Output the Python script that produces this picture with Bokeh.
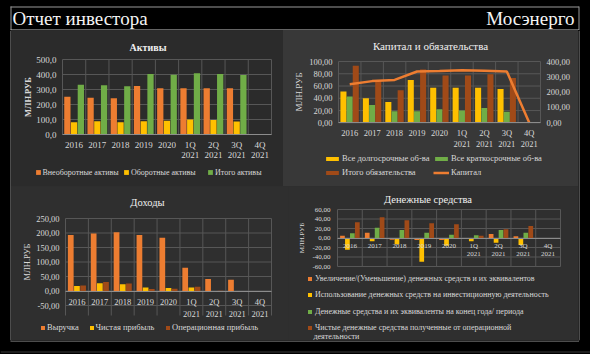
from bokeh.plotting import figure
from bokeh.models import (ColumnDataSource, Range1d, FixedTicker, LinearAxis, Legend,
                          LegendItem, Label, CustomJSTickFormatter)
from bokeh.transform import dodge
from bokeh.layouts import row, column
from bokeh.embed import file_html
from bokeh.resources import INLINE
from bokeh.core.properties import value

# ---------------- data ----------------
categories = ["2016", "2017", "2018", "2019", "2020",
              "1Q\n2021", "2Q\n2021", "3Q\n2021", "4Q\n2021"]

assets_names = ["Внеоборотные активы", "Оборотные активы", "Итого активы"]
assets_noncurrent = [252, 245, 241, 323, 308, 308, 308, 309, 0]
assets_current = [82, 88, 81, 88, 91, 100, 96, 87, 0]
assets_total = [331, 328, 322, 403, 398, 408, 404, 397, 0]
assets_ticks = [0, 100, 200, 300, 400, 500]

liab_names = ["Все долгосрочные об-ва", "Все краткосрочные об-ва", "Итого обязательства", "Капитал"]
liab_long = [51, 40, 34, 70, 57, 57, 57, 55, 0]
liab_short = [43, 29, 19, 19, 22, 20, 24, 18, 0]
liab_total = [93, 68, 53, 87, 77, 77, 79, 73, 0]
equity = [252, 272, 280, 335, 338, 343, 340, 335, 0]
liab_ticks = [0, 20, 40, 60, 80, 100]
equity_ticks = [0, 100, 200, 300, 400]

income_names = ["Выручка", "Чистая прибыль", "Операционная прибыль"]
revenue = [193, 198, 203, 193, 184, 80, 41, 39, 0]
net_income = [17, 27, 23, 12, 10, 12, -2, -2, 0]
op_income = [19, 31, 26, 7, 8, 15, 1, -1, 0]
income_ticks = [-50, 0, 50, 100, 150, 200, 250]

cash_names = ["Увеличение/(Уменьшение) денежных средств и их эквивалентов",
              "Использование денежных средств на инвестиционную деятельность",
              "Денежные средства и их эквиваленты на конец года/ периода",
              "Чистые денежные средства полученные от операционной"]
cash_wrap = "деятельности"
cash_change = [4.9, 11.2, -3.5, -4.2, -4.2, -2.1, 8.4, 3.5, 0]
cash_invest = [-24.6, -7.0, -13.3, -49.8, -16.1, -7.0, -9.8, -14.7, 0]
cash_end = [9.8, 21.8, 16.8, 11.2, 7.0, 5.6, 16.8, 11.2, 0]
cash_oper = [33.0, 43.5, 37.2, 30.9, 28.8, 4.9, 18.2, 25.3, 0]
cash_ticks = [-60, -40, -20, 0, 20, 40, 60]

y_label = "МЛН.РУБ"
header_left = "Отчет инвестора"
header_right = "Мосэнерго"
titles = ["Активы", "Капитал и обязательства", "Доходы", "Денежные средства"]

# ---------------- style ----------------
FONT = "Liberation Serif"
ORANGE = "#ED7D31"
YELLOW = "#FFC000"
GREEN = "#70AD47"
BROWN = "#A04A18"
GRID = "#575757"
AXIS = "#8c8c8c"
TXT = "#d9d9d9"
TITLE = "#f0f0f0"
FRAME = "#9a9a9a"
CHALK = "#2f2f2f"
N = len(categories)
IDX = list(range(N))


def num_fmt(dec):
    return CustomJSTickFormatter(code="return tick.toFixed(%d).replace('.', ',');" % dec)


def style_axis(ax, fs, standoff):
    ax.major_tick_line_color = None
    ax.minor_tick_line_color = None
    ax.major_tick_out = 0
    ax.major_tick_in = 0
    ax.minor_tick_out = 0
    ax.minor_tick_in = 0
    ax.major_label_standoff = standoff
    ax.major_label_text_font = FONT
    ax.major_label_text_font_size = fs
    ax.major_label_text_color = TXT


class Chart:
    """A cell whose plot frame fills the whole canvas; axes are fixed inside it."""

    def __init__(self, w, h, cx0, cy0, pl, pr, pt, pb, ticks, dec, bg, fs,
                 ystand, xstand, lh, lab_fs, lab_style, lab_stand, x_at,
                 vgrid_extra=0.0, styles=None):
        self.cx0, self.cy0, self.h = cx0, cy0, h
        ymin, ymax = ticks[0], ticks[-1]
        L, R, T, B = pl - cx0, pr - cx0, pt - cy0, pb - cy0
        ppx = (R - L) / N
        ppy = (B - T) / (ymax - ymin)
        self.yr = (ymin - (h - B) / ppy, ymax + T / ppy)
        st = {"background-color": bg}
        if styles:
            st.update(styles)
        p = figure(width=w, height=h, x_range=Range1d(-L / ppx, N + (w - R) / ppx),
                   y_range=Range1d(*self.yr), title=None,
                   x_axis_location=None, y_axis_location=None, min_border=0,
                   output_backend="svg", toolbar_location=None,
                   background_fill_color=bg, border_fill_color=bg,
                   outline_line_color=None, styles=st)
        p.grid.visible = False
        # grid lines (horizontal at ticks, vertical at category boundaries)
        p.segment(x0=[0] * len(ticks), y0=ticks, x1=[N] * len(ticks), y1=ticks,
                  line_color=GRID, line_width=1)
        bnd = list(range(N + 1))
        low = ymin - vgrid_extra / ppy
        p.segment(x0=bnd, y0=[low] * (N + 1), x1=bnd, y1=[ymax] * (N + 1),
                  line_color=GRID, line_width=1)
        # y axis
        yax = LinearAxis(ticker=FixedTicker(ticks=ticks), formatter=num_fmt(dec),
                         fixed_location=0, bounds=(ymin, ymax))
        style_axis(yax, fs, ystand)
        yax.axis_line_color = None
        yax.axis_label = y_label
        yax.axis_label_text_font = FONT
        yax.axis_label_text_font_size = lab_fs
        yax.axis_label_text_font_style = lab_style
        yax.axis_label_text_color = TXT
        yax.axis_label_standoff = int(lab_stand)
        p.add_layout(yax, "left")
        # category axis
        xax = LinearAxis(ticker=FixedTicker(ticks=[i + 0.5 for i in IDX]),
                         formatter=CustomJSTickFormatter(
                             args=dict(cats=categories),
                             code="const i = Math.floor(tick); return (i >= 0 && i < cats.length) ? cats[i] : '';"),
                         fixed_location=x_at, bounds=(0, N))
        style_axis(xax, fs, xstand)
        xax.axis_line_color = AXIS
        xax.major_label_text_line_height = lh
        p.add_layout(xax, "below")
        self.p = p

    def sx(self, ix):
        return ix - self.cx0

    def sy(self, iy):
        return self.cy0 + self.h - iy

    def label(self, ix, iy, text, size, color=TITLE, style="normal", align="center"):
        self.p.add_layout(Label(x=self.sx(ix), y=self.sy(iy), x_units="screen", y_units="screen",
                                text=text, text_font=FONT, text_font_size=size,
                                text_font_style=style, text_color=color,
                                text_align=align, text_baseline="middle"))

    def legend(self, r, text, ix, iy, gw, gh, size, standoff=2, H=10):
        lg = Legend(items=[LegendItem(label=value(text), renderers=[r])],
                    location=(self.sx(ix), self.sy(iy + H / 2)), orientation="horizontal",
                    padding=0, margin=0, spacing=0, border_line_color=None,
                    background_fill_alpha=0, glyph_width=gw, glyph_height=gh,
                    label_height=H, label_width=0, label_standoff=standoff,
                    label_text_font=FONT, label_text_font_size=size,
                    label_text_color=TXT)
        self.p.add_layout(lg)


# ---------------- Активы (top-left) ----------------
tl = Chart(272, 156, 11, 30, 62, 271, 59, 134, assets_ticks, 1, "#2b2b2b", "9px",
           6, 5, 1.0, "8.5px", "bold", 0, 0,
           styles={"outline": "1px solid #161616", "outline-offset": "-3px"})
src_a = ColumnDataSource(dict(x=IDX, a=assets_noncurrent, b=assets_current, c=assets_total))
ra = tl.p.vbar(x=dodge("x", 0.5 - 0.29), top="a", width=0.27, source=src_a,
               fill_color=ORANGE, line_color=None)
rb = tl.p.vbar(x=dodge("x", 0.5), top="b", width=0.27, source=src_a,
               fill_color=YELLOW, line_color=None)
rc = tl.p.vbar(x=dodge("x", 0.5 + 0.29), top="c", width=0.27, source=src_a,
               fill_color=GREEN, line_color=None)
tl.label(147.5, 46.5, titles[0], "10px", style="bold")
for r, t, x in zip([ra, rb, rc], assets_names, [34.5, 123, 207]):
    tl.legend(r, t, x, 172, 6, 6, "8px")

# ---------------- Капитал и обязательства (top-right) ----------------
tr = Chart(295, 156, 283, 30, 338, 540, 61, 122.3, liab_ticks, 2, "#383838", "8.5px",
           6, 5, 1.1, "9px", "normal", 2, 0)
scale = equity_ticks[-1] / liab_ticks[-1]
tr.p.extra_y_ranges = {"cap": Range1d(tr.yr[0] * scale, tr.yr[1] * scale)}
rax = LinearAxis(y_range_name="cap", ticker=FixedTicker(ticks=equity_ticks),
                 formatter=num_fmt(2), fixed_location=N,
                 bounds=(equity_ticks[0], equity_ticks[-1]))
style_axis(rax, "8.5px", 6)
rax.axis_line_color = None
tr.p.add_layout(rax, "right")
src_l = ColumnDataSource(dict(x=IDX, a=liab_long, b=liab_short, c=liab_total, e=equity))
r1 = tr.p.vbar(x=dodge("x", 0.5 - 0.28), top="a", width=0.27, source=src_l,
               fill_color=YELLOW, line_color=None)
r2 = tr.p.vbar(x=dodge("x", 0.5), top="b", width=0.27, source=src_l,
               fill_color=GREEN, line_color=None)
r3 = tr.p.vbar(x=dodge("x", 0.5 + 0.27), top="c", width=0.27, source=src_l,
               fill_color=BROWN, line_color=None)
r4 = tr.p.line(x=dodge("x", 0.5), y="e", source=src_l, y_range_name="cap",
               line_color=ORANGE, line_width=2.5)
tr.label(430, 45, titles[1], "11px")
for r, t, x, y in zip([r1, r2, r3, r4], liab_names, [324, 433, 324, 433], [158, 158, 172, 172]):
    tr.legend(r, t, x, y, 16, 5, "8.5px")

# ---------------- Доходы (bottom-left) ----------------
bl = Chart(277, 154, 11, 186, 65, 271, 218, 305, income_ticks, 2, CHALK, "8.5px",
           6, 6, 1.15, "8.5px", "normal", 1, 0, vgrid_extra=10)
src_i = ColumnDataSource(dict(x=IDX, a=revenue, b=net_income, c=op_income))
i1 = bl.p.vbar(x=dodge("x", 0.5 - 0.27), top="a", width=0.25, source=src_i,
               fill_color=ORANGE, line_color=None)
i2 = bl.p.vbar(x=dodge("x", 0.5), top="b", width=0.25, source=src_i,
               fill_color=YELLOW, line_color=None)
i3 = bl.p.vbar(x=dodge("x", 0.5 + 0.27), top="c", width=0.25, source=src_i,
               fill_color=BROWN, line_color=None)
bl.label(147, 202, titles[2], "10.5px")
for r, t, x in zip([i1, i2, i3], income_names, [40, 88.5, 165]):
    bl.legend(r, t, x, 327, 5, 5, "8.5px")

# ---------------- Денежные средства (bottom-right) ----------------
br = Chart(290, 154, 288, 186, 337, 560, 209, 266, cash_ticks, 2, CHALK, "7px",
           7, 4, 0.95, "7px", "normal", 3, 0)
src_c = ColumnDataSource(dict(x=IDX, a=cash_change, b=cash_invest, c=cash_end, d=cash_oper))
c_rs = []
for col, off, colr in zip(["a", "b", "c", "d"], [-0.3, -0.1, 0.1, 0.3],
                          [ORANGE, YELLOW, GREEN, BROWN]):
    c_rs.append(br.p.vbar(x=dodge("x", 0.5 + off), top=col, width=0.19,
                          source=src_c, fill_color=colr, line_color=None))
br.label(427.5, 198.5, titles[3], "10.5px")
for r, t, y in zip(c_rs, cash_names, [278, 294.5, 311, 327]):
    br.legend(r, t, 307, y, 5, 5, "8px", standoff=3)
br.label(313, 335.5, cash_wrap, "8px", color=TXT, align="left")


# ---------------- frame / header pieces ----------------
def deco(w, h, bg="black"):
    f = figure(width=w, height=h, x_range=Range1d(0, w), y_range=Range1d(h, 0),
               output_backend="svg", toolbar_location=None, min_border=0, title=None,
               x_axis_location=None, y_axis_location=None,
               background_fill_color=bg, border_fill_color=bg, outline_line_color=None,
               styles={"background-color": bg})
    f.grid.visible = False
    return f


hdr = deco(590, 30)
hdr.segment(x0=[10, 10.5, 578.5], y0=[6.5, 6, 6], x1=[578.5, 10.5, 578.5], y1=[6.5, 30, 30],
            line_color=FRAME, line_width=1)
hdr.segment(x0=[10], y0=[29.5], x1=[578.5], y1=[29.5], line_color="#c8c8c8", line_width=1.2)
hdr.add_layout(Label(x=12, y=18.2, text=header_left, text_font=FONT, text_font_size="19px",
                     text_color="#f4f4f4", text_baseline="middle"))
hdr.add_layout(Label(x=574, y=18.2, text=header_right, text_font=FONT, text_font_size="19px",
                     text_color="#f4f4f4", text_baseline="middle", text_align="right"))

lstrip = deco(11, 310)
lstrip.segment(x0=[10.5], y0=[0], x1=[10.5], y1=[310], line_color=FRAME, line_width=1)
rstrip = deco(12, 310)
rstrip.segment(x0=[0.5], y0=[0], x1=[0.5], y1=[310], line_color=FRAME, line_width=1)

ftr = deco(590, 14)
ftr.segment(x0=[10, 10.5, 578.5], y0=[0.5, 0, 0], x1=[578.5, 10.5, 578.5], y1=[0.5, 0.5, 0.5],
            line_color=FRAME, line_width=1)
ftr.segment(x0=[0], y0=[11.5], x1=[590], y1=[11.5], line_color="#3a3a3a", line_width=1)

chalk = {"background-color": CHALK}
charts = column(row(tl.p, tr.p, styles=chalk), row(bl.p, br.p, styles=chalk), styles=chalk)
layout = column(hdr,
                row(lstrip, charts, rstrip, styles={"background-color": "black"}),
                ftr, styles={"background-color": "black"})

open("out.html", "w").write(file_html(layout, INLINE))
